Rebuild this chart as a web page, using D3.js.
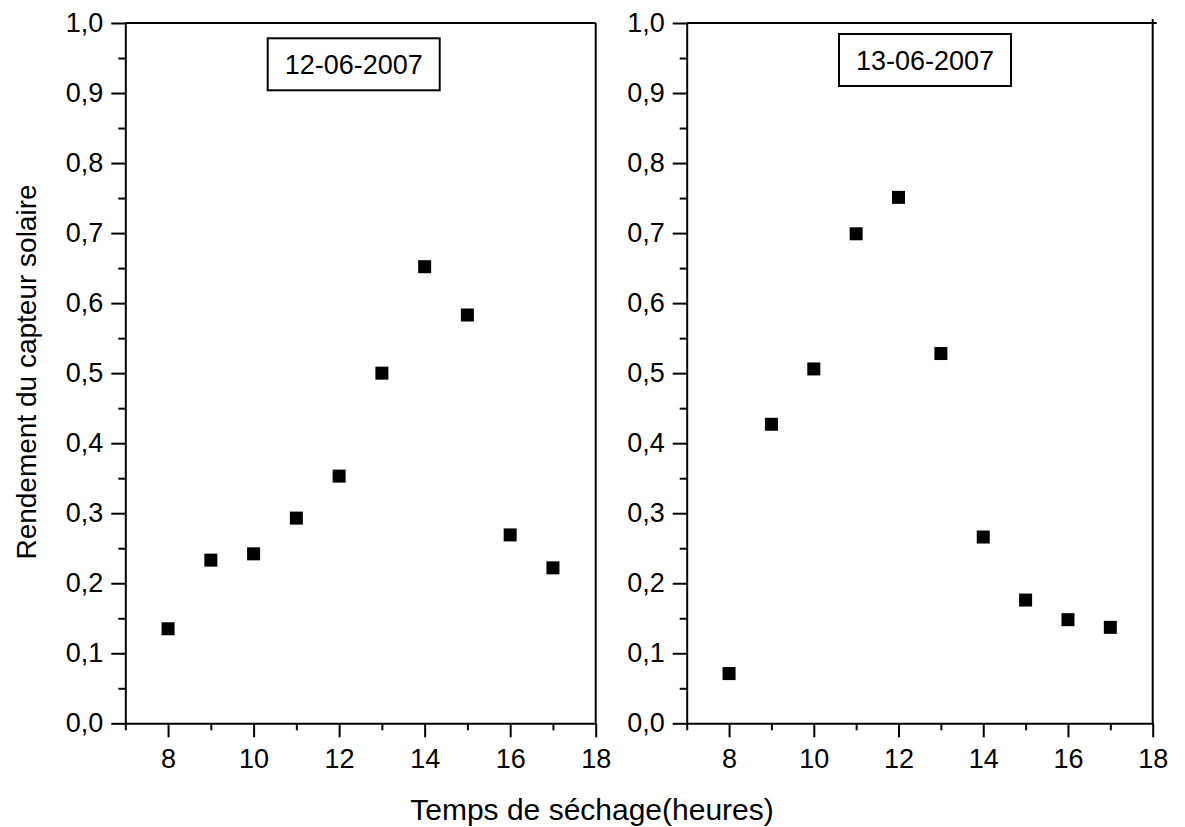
<html>
<head>
<meta charset="utf-8">
<script src="https://d3js.org/d3.v7.min.js"></script>
<style>
  body { margin: 0; background: #fff; }
  text { font-family: "Liberation Sans", Arial, sans-serif; fill: #000; }
  .axis path, .axis line { stroke: #000; stroke-width: 2px; }
</style>
</head>
<body>
<div id="stuff"><svg width="1185" height="827"></svg></div>
<script>

var hours = [8, 9, 10, 11, 12, 13, 14, 15, 16, 17];
var rendement12 = [0.135, 0.233, 0.242, 0.293, 0.353, 0.500, 0.652, 0.583, 0.269, 0.222];
var rendement13 = [0.071, 0.427, 0.506, 0.699, 0.751, 0.528, 0.266, 0.176, 0.148, 0.137];
var dateLabels = ["12-06-2007", "13-06-2007"];
var xMajorTicks = [8, 10, 12, 14, 16, 18];
var xMinorTicks = [7, 9, 11, 13, 15, 17];
var yMajorTicks = [0, 0.1, 0.2, 0.3, 0.4, 0.5, 0.6, 0.7, 0.8, 0.9, 1.0];
var yMinorTicks = [0.05, 0.15, 0.25, 0.35, 0.45, 0.55, 0.65, 0.75, 0.85, 0.95];

var svg = d3.select("#stuff").select("svg");

var plotTop = 23;
var plotBottom = 723.3;
var tickFont = "27px";
var fmt = function(d) { return d3.format(".1f")(d).replace(".", ","); };

// one panel per day
var panels = [
  { left: 125.3, right: 595.7, values: rendement12, label: dateLabels[0], box: [267.7, 38.3, 172, 52] },
  { left: 686.7, right: 1152.7, values: rendement13, label: dateLabels[1], box: [839, 34, 172, 52], corner: true }
];

panels.forEach(function(p) {
  var x = d3.scaleLinear().domain([7, 18]).range([p.left, p.right]);
  var y = d3.scaleLinear().domain([0, 1]).range([plotBottom, plotTop]);
  var g = svg.append("g");

  // top and right border
  g.append("line")
    .attr("x1", p.left).attr("x2", p.right + (p.corner ? 4 : 0))
    .attr("y1", plotTop).attr("y2", plotTop)
    .attr("stroke", "#000").attr("stroke-width", 2);
  g.append("line")
    .attr("x1", p.right).attr("x2", p.right)
    .attr("y1", plotTop - (p.corner ? 4 : 0)).attr("y2", plotBottom)
    .attr("stroke", "#000").attr("stroke-width", 2);

  // minor ticks
  g.append("g").attr("class", "axis")
    .attr("transform", "translate(0," + plotBottom + ")")
    .call(d3.axisBottom(x).tickValues(xMinorTicks).tickSize(7).tickFormat(""))
    .select(".domain").remove();
  g.append("g").attr("class", "axis")
    .attr("transform", "translate(" + p.left + ",0)")
    .call(d3.axisLeft(y).tickValues(yMinorTicks).tickSize(7).tickFormat(""))
    .select(".domain").remove();

  // major ticks and labels
  var xa = g.append("g").attr("class", "axis")
    .attr("transform", "translate(0," + plotBottom + ")")
    .call(d3.axisBottom(x).tickValues(xMajorTicks).tickSize(14).tickSizeOuter(0).tickPadding(12));
  xa.attr("font-size", null).attr("font-family", null);
  xa.selectAll("text").attr("font-size", tickFont).style("font-size", tickFont);

  var ya = g.append("g").attr("class", "axis")
    .attr("transform", "translate(" + p.left + ",0)")
    .call(d3.axisLeft(y).tickValues(yMajorTicks).tickSize(14).tickSizeOuter(0).tickPadding(8).tickFormat(fmt));
  ya.attr("font-size", null).attr("font-family", null);
  ya.selectAll("text").attr("font-size", tickFont).style("font-size", tickFont);

  // square markers
  g.selectAll("rect.pt")
    .data(hours)
    .enter().append("rect")
    .attr("class", "pt")
    .attr("x", function(d) { return x(d) - 6.5; })
    .attr("y", function(d, i) { return y(p.values[i]) - 6.5; })
    .attr("width", 13)
    .attr("height", 13)
    .attr("fill", "#000");

  // date box
  g.append("rect")
    .attr("x", p.box[0]).attr("y", p.box[1])
    .attr("width", p.box[2]).attr("height", p.box[3])
    .attr("fill", "#fff").attr("stroke", "#000").attr("stroke-width", 2);
  g.append("text")
    .attr("x", p.box[0] + p.box[2] / 2)
    .attr("y", p.box[1] + p.box[3] / 2 + 9.5)
    .style("font-size", "27px")
    .style("text-anchor", "middle")
    .text(p.label);
});

// axis titles
svg.append("text")
  .attr("x", 592)
  .attr("y", 820)
  .style("font-size", "30px")
  .style("text-anchor", "middle")
  .text("Temps de séchage(heures)");

svg.append("text")
  .attr("transform", "translate(36,372) rotate(-90)")
  .style("font-size", "28px")
  .style("text-anchor", "middle")
  .text("Rendement du capteur solaire");

</script>
</body>
</html>
